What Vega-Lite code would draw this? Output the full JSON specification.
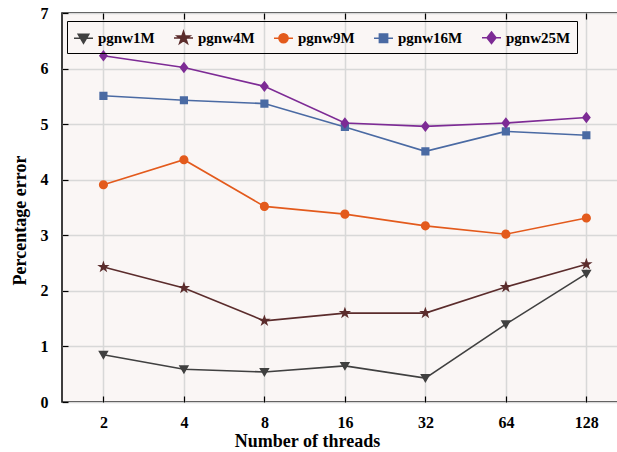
{
  "$schema": "https://vega.github.io/schema/vega-lite/v6.json",
  "width": 558,
  "height": 389,
  "autosize": {"type": "none"},
  "padding": {"left": 62, "top": 13, "right": 0, "bottom": 50},
  "background": "white",
  "config": {
    "font": "'Liberation Serif', serif",
    "view": {"fill": "#faf6f5", "stroke": "black", "strokeWidth": 1.5},
    "axis": {
      "labelFont": "'Liberation Serif', serif", "labelFontWeight": "bold", "labelFontSize": 16, "labelColor": "black",
      "titleFont": "'Liberation Serif', serif", "titleFontWeight": "bold", "titleFontSize": 18, "titleColor": "black",
      "gridColor": "#d8d8d8", "gridWidth": 1.5, "domain": false,
      "tickColor": "black", "tickWidth": 1.2
    }
  },
  "data": {"values": [
    {"threads": 2, "series": "pgnw1M", "err": 0.85},
    {"threads": 4, "series": "pgnw1M", "err": 0.59},
    {"threads": 8, "series": "pgnw1M", "err": 0.54},
    {"threads": 16, "series": "pgnw1M", "err": 0.65},
    {"threads": 32, "series": "pgnw1M", "err": 0.43},
    {"threads": 64, "series": "pgnw1M", "err": 1.40},
    {"threads": 128, "series": "pgnw1M", "err": 2.31},
    {"threads": 2, "series": "pgnw4M", "err": 2.43},
    {"threads": 4, "series": "pgnw4M", "err": 2.05},
    {"threads": 8, "series": "pgnw4M", "err": 1.46},
    {"threads": 16, "series": "pgnw4M", "err": 1.60},
    {"threads": 32, "series": "pgnw4M", "err": 1.60},
    {"threads": 64, "series": "pgnw4M", "err": 2.07},
    {"threads": 128, "series": "pgnw4M", "err": 2.48},
    {"threads": 2, "series": "pgnw9M", "err": 3.91},
    {"threads": 4, "series": "pgnw9M", "err": 4.36},
    {"threads": 8, "series": "pgnw9M", "err": 3.52},
    {"threads": 16, "series": "pgnw9M", "err": 3.38},
    {"threads": 32, "series": "pgnw9M", "err": 3.17},
    {"threads": 64, "series": "pgnw9M", "err": 3.02},
    {"threads": 128, "series": "pgnw9M", "err": 3.31},
    {"threads": 2, "series": "pgnw16M", "err": 5.51},
    {"threads": 4, "series": "pgnw16M", "err": 5.43},
    {"threads": 8, "series": "pgnw16M", "err": 5.37},
    {"threads": 16, "series": "pgnw16M", "err": 4.95},
    {"threads": 32, "series": "pgnw16M", "err": 4.51},
    {"threads": 64, "series": "pgnw16M", "err": 4.87},
    {"threads": 128, "series": "pgnw16M", "err": 4.80},
    {"threads": 2, "series": "pgnw25M", "err": 6.23},
    {"threads": 4, "series": "pgnw25M", "err": 6.02},
    {"threads": 8, "series": "pgnw25M", "err": 5.68},
    {"threads": 16, "series": "pgnw25M", "err": 5.02},
    {"threads": 32, "series": "pgnw25M", "err": 4.96},
    {"threads": 64, "series": "pgnw25M", "err": 5.02},
    {"threads": 128, "series": "pgnw25M", "err": 5.12}
  ]},
  "encoding": {
    "y": {
      "field": "err", "type": "quantitative",
      "scale": {"domain": [0, 7], "nice": false},
      "axis": {"values": [0, 1, 2, 3, 4, 5, 6, 7], "title": "Percentage error", "tickSize": -6, "labelPadding": 20, "titlePadding": 11, "titleY": 207}
    }
  },
  "resolve": {"axis": {"x": "independent"}},
  "layer": [
    {
      "mark": {"type": "line", "strokeWidth": 1.6},
      "encoding": {
        "x": {
          "field": "threads", "type": "quantitative",
          "scale": {"type": "log", "base": 2, "domain": [1.4, 171], "nice": false},
          "axis": {"values": [2, 4, 8, 16, 32, 64, 128], "title": "Number of threads", "tickSize": -6, "labelPadding": 18, "titlePadding": 2, "titleX": 245, "format": "d"}
        },
        "color": {
          "field": "series", "type": "nominal",
          "scale": {"domain": ["pgnw1M", "pgnw4M", "pgnw9M", "pgnw16M", "pgnw25M"],
                    "range": ["#404040", "#5b2c2c", "#e35a1c", "#4a6aa3", "#7d2b95"]},
          "legend": {
            "title": null, "orient": "none", "legendX": 5, "legendY": 8, "direction": "horizontal",
            "strokeColor": "black", "padding": 6,
            "labelFont": "'Liberation Serif', serif", "labelFontWeight": "bold", "labelFontSize": 15, "labelColor": "black",
            "symbolSize": 361, "symbolStrokeWidth": 1.6, "columnPadding": 15, "labelOffset": 4
          }
        }
      }
    },
    {
      "mark": {"type": "point", "filled": true, "size": 361, "opacity": 1, "strokeWidth": 0},
      "encoding": {
        "x": {
          "field": "threads", "type": "quantitative",
          "axis": {"orient": "top", "values": [2, 4, 8, 16, 32, 64, 128], "labels": false, "title": null, "grid": false, "tickSize": -6}
        },
        "color": {
          "field": "series", "type": "nominal",
          "scale": {"domain": ["pgnw1M", "pgnw4M", "pgnw9M", "pgnw16M", "pgnw25M"],
                    "range": ["#404040", "#5b2c2c", "#e35a1c", "#4a6aa3", "#7d2b95"]}
        },
        "stroke": {
          "field": "series", "type": "nominal",
          "scale": {"domain": ["pgnw1M", "pgnw4M", "pgnw9M", "pgnw16M", "pgnw25M"],
                    "range": ["#404040", "#5b2c2c", "#e35a1c", "#4a6aa3", "#7d2b95"]}
        },
        "shape": {
          "field": "series", "type": "nominal",
          "scale": {"domain": ["pgnw1M", "pgnw4M", "pgnw9M", "pgnw16M", "pgnw25M"],
                    "range": [
                      "M-0.55,-0.42L0.55,-0.42L0,0.52ZM-1,0H1",
                      "M0,-0.68L0.16,-0.21L0.65,-0.21L0.25,0.08L0.4,0.55L0,0.26L-0.4,0.55L-0.25,0.08L-0.65,-0.21L-0.16,-0.21ZM-1,0H1",
                      "M0.48,0A0.48,0.48,0,1,1,-0.48,0A0.48,0.48,0,1,1,0.48,0ZM-1,0H1",
                      "M-0.43,-0.43H0.43V0.43H-0.43ZM-1,0H1",
                      "M0,-0.6L0.47,0L0,0.6L-0.47,0ZM-1,0H1"
                    ]}
        }
      }
    }
  ]
}
